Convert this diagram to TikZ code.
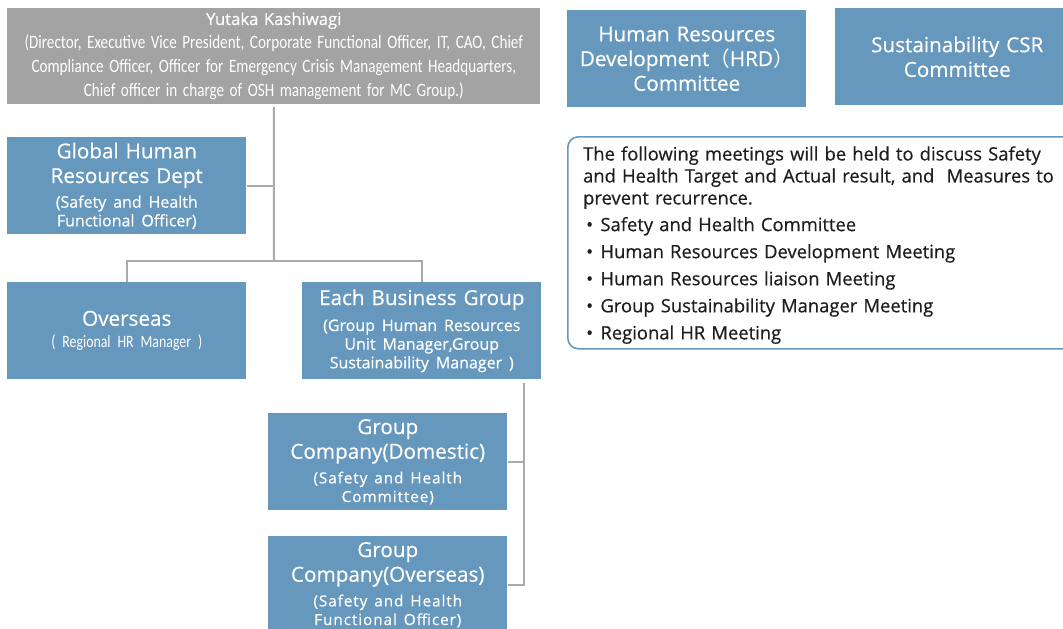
\documentclass[tikz,border=0pt]{standalone}
\usepackage{fontspec}
\setmainfont{Open Sans}[FakeBold=0.5]
\newfontfamily\narrowfont{Carlito}[FakeStretch=0.8]
\newfontfamily\widefont{Open Sans}[FakeBold=0.5,LetterSpace=6]
\newfontfamily\cjk{Noto Sans CJK JP}
\usetikzlibrary{positioning}
\definecolor{mcblue}{RGB}{102,151,188}
\definecolor{mcgray}{RGB}{163,163,163}
\definecolor{mcline}{RGB}{170,170,170}
\definecolor{mctext}{RGB}{30,30,30}
\newcommand\subfont{\fontsize{12}{14}\selectfont}
\newcommand\widesub{\widefont\fontsize{11.5}{14}\selectfont}

\begin{document}
\begin{tikzpicture}[x=0.75pt, y=-0.75pt,
  every node/.style={font=\fontsize{15.5}{18.5}\selectfont},
  box/.style={fill=mcblue, text=white, inner sep=0pt, minimum width=179.25pt,
    minimum height=72.75pt, text width=175pt, align=center},
  link/.style={draw=mcline, line width=1.5pt}]
  \useasboundingbox (0,0) rectangle (1063,628);
  \clip (0,0) rectangle (1063,628);
  % top officer
  \node[box, fill=mcgray, anchor=north west, minimum width=399.75pt, minimum height=72pt,
    text width=398pt, font=\fontsize{12.5}{18}\selectfont] (top) at (7,8)
    {Yutaka Kashiwagi\\
     {\narrowfont\fontsize{14.2}{18}\selectfont (Director, Executive Vice President, Corporate Functional Officer, IT, CAO, Chief\\
     Compliance Officer, Officer for Emergency Crisis Management Headquarters,\\
     Chief officer in charge of OSH management for MC Group.)\par}};
  \node[box, anchor=north west] (ghr) at (7,137)
    {Global Human\\Resources Dept\\[4.5pt]{\subfont (Safety and Health\\Functional Officer)\par}};
  \node[box, anchor=north west] (ovs) at (7,282)
    {Overseas\\[2.5pt]{\narrowfont\fontsize{13}{14}\selectfont ( Regional HR Manager )\par}};
  \node[box, anchor=north west] (ebg) at (302,282)
    {Each Business Group\\[5.5pt]{\subfont (Group Human Resources\\Unit Manager,Group\\Sustainability Manager )\par}};
  \node[box, anchor=north west] (gcd) at (268,413)
    {Group\\Company(Domestic)\\[4.5pt]{\widesub (Safety and Health\\Committee)\par}};
  \node[box, anchor=north west] (gco) at (268,536)
    {Group\\Company(Overseas)\\[4.5pt]{\widesub (Safety and Health\\Functional Officer)\par}};
  % committees
  \node[box, anchor=north west] (hrd) at (567,10)
    {Human Resources\\Development{\cjk （}HRD{\cjk ）}\\Committee};
  \node[box, anchor=north west, minimum width=183pt] (csr) at (835,8)
    {Sustainability CSR\\Committee};
  % meetings
  \node[draw=mcblue, line width=1.2pt, rounded corners=8pt, anchor=north west,
    minimum width=381pt, minimum height=159pt, inner xsep=11pt, text width=358pt,
    align=left, text=mctext, font=\fontsize{13.8}{16.5}\selectfont] (meet) at (567,136)
    {\rule{0pt}{14pt}The following meetings will be held to discuss Safety\\
     and Health Target and Actual result, and\ \ Measures to\\
     prevent recurrence.\\[3.5pt]
     \makebox[13pt][l]{\,\textbullet}Safety and Health Committee\\[3.8pt]
     \makebox[13pt][l]{\,\textbullet}Human Resources Development Meeting\\[3.8pt]
     \makebox[13pt][l]{\,\textbullet}Human Resources liaison Meeting\\[3.8pt]
     \makebox[13pt][l]{\,\textbullet}Group Sustainability Manager Meeting\\[3.8pt]
     \makebox[13pt][l]{\,\textbullet}Regional HR Meeting};
  % connectors
  \coordinate (j1) at (274,261);
  \coordinate (j2) at (524,383);
  \draw[link] ([yshift=-2pt]top.south) -- (j1);
  \draw[link] (ghr.east) -- (ghr.east -| j1);
  \draw[link] (ovs.north) |- (j1) -| (ebg.north);
  \draw[link] (j2) |- (gco.east);
  \draw[link] (gcd.east) -- (gcd.east -| j2);
\end{tikzpicture}
\end{document}
